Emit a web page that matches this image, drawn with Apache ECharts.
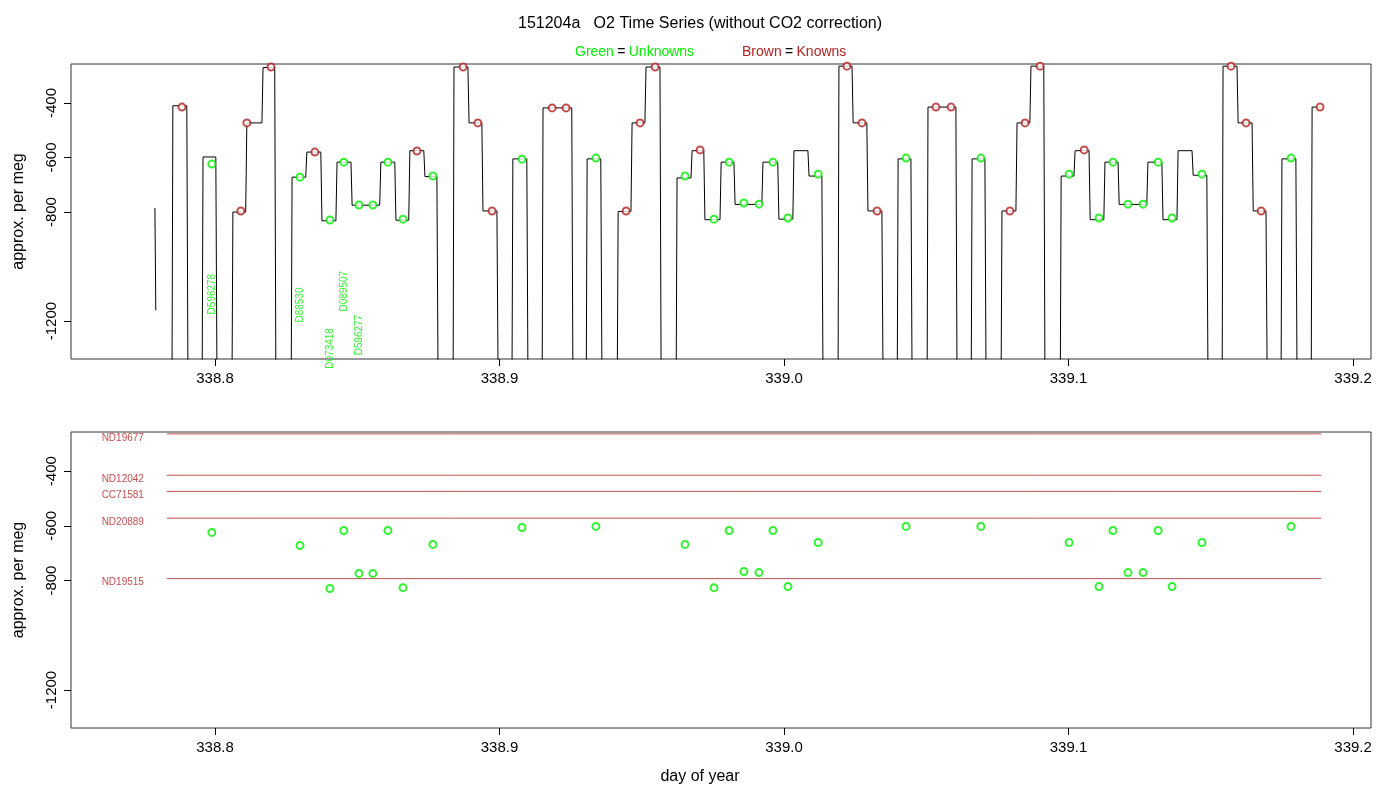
<!DOCTYPE html>
<html>
<head>
<meta charset="utf-8">
<script src="https://cdn.jsdelivr.net/npm/echarts@6/dist/echarts.min.js"></script>
<style>
  html, body { margin: 0; padding: 0; background: #fff; }
  #main { width: 1400px; height: 800px; }
</style>
</head>
<body>
<div id="main"></div>
<script>
// value below the axis floor: the trace drops off the plot between samples
const FLOOR = -1400;

// initial fragment of the trace
const startFragment = [[338.7789, -785], [338.7792, -1160]];

// runs of the trace: start day, end day, then steps [switchDay, level]
const runStarts = [338.7852, 338.7958, 338.8063, 338.8271, 338.8840, 338.9047, 338.9153, 338.9308, 338.9417,
  338.9624, 339.0193, 339.0401, 339.0506, 339.0661, 339.0766, 339.0974, 339.1543, 339.1750, 339.1856];
const runEnds = [338.7905, 338.8007, 338.8214, 338.8784, 338.8995, 338.9100, 338.9258, 338.9360, 338.9568,
  339.0137, 339.0348, 339.0450, 339.0608, 339.0710, 339.0917, 339.1490, 339.1698, 339.1803, 339.1895];
const runSteps = [
  [[338.7852, -410]],
  [[338.7958, -598]],
  [[338.8063, -800], [338.8112, -473], [338.8169, -270]],
  [[338.8271, -672], [338.8323, -580], [338.8376, -832], [338.8429, -617], [338.8482, -775],
   [338.8583, -617], [338.8636, -830], [338.8685, -575], [338.8738, -670]],
  [[338.8840, -268], [338.8893, -473], [338.8942, -796]],
  [[338.9047, -605]],
  [[338.9153, -418]],
  [[338.9308, -605]],
  [[338.9417, -798], [338.9466, -473], [338.9515, -268]],
  [[338.9624, -675], [338.9677, -575], [338.9722, -828], [338.9779, -617], [338.9828, -772],
   [338.9926, -617], [338.9982, -826], [339.0035, -575], [339.0088, -668]],
  [[339.0193, -265], [339.0243, -473], [339.0295, -796]],
  [[339.0401, -605]],
  [[339.0506, -415]],
  [[339.0661, -605]],
  [[339.0766, -796], [339.0819, -473], [339.0868, -265]],
  [[339.0974, -668], [339.1023, -575], [339.1076, -828], [339.1128, -617], [339.1178, -772],
   [339.1279, -617], [339.1332, -828], [339.1385, -575], [339.1438, -665]],
  [[339.1543, -265], [339.1596, -473], [339.1649, -796]],
  [[339.1750, -605]],
  [[339.1856, -415]]
];
const lastRunOpen = true; // last run ends on the plateau

// knowns measured in the top panel (brown circles)
const knownDays = [338.7884, 338.8112, 338.8197, 338.8091, 338.8351, 338.8710, 338.8872, 338.8924, 338.8974,
  338.9185, 338.9234, 338.9445, 338.9494, 338.9547, 338.9705, 339.0221, 339.0274, 339.0327, 339.0534, 339.0587,
  339.0794, 339.0847, 339.0900, 339.1055, 339.1571, 339.1624, 339.1677, 339.1884];
const knownVals = [-415, -473, -268, -796, -580, -576, -268, -473, -796,
  -418, -418, -796, -473, -268, -572, -265, -473, -796, -415, -415,
  -796, -473, -265, -572, -265, -473, -796, -415];

// unknowns (green circles)
const unkDays = [338.7989, 338.8299, 338.8404, 338.8453, 338.8506, 338.8555, 338.8608, 338.8661, 338.8766,
  338.9079, 338.9339, 338.9652, 338.9754, 338.9807, 338.9859, 338.9912, 338.9961, 339.0014, 339.0120,
  339.0429, 339.0692, 339.1002, 339.1107, 339.1156, 339.1209, 339.1262, 339.1315, 339.1364, 339.1469, 339.1782];
const unkVals = [-624, -672, -829, -617, -774, -774, -617, -826, -668,
  -606, -602, -668, -826, -617, -767, -771, -617, -822, -661,
  -602, -602, -661, -822, -617, -771, -771, -617, -822, -661, -602];

// flagged unknown labels in the top panel
const flagNames = ['D596278', 'D88530', 'D073418', 'D089507', 'D596277'];
const flagDays = [338.7990, 338.8299, 338.8404, 338.8453, 338.8506];
const flagVals = [-1101, -1141, -1300, -1090, -1251];

// reference lines of the knowns (bottom panel)
const refNames = ['ND19677', 'ND12042', 'CC71581', 'ND20889', 'ND19515'];
const refVals = [-264, -415, -474, -572, -793];
const refFrom = 338.7831, refTo = 339.1888;

const xTicks = [338.8, 338.9, 339.0, 339.1, 339.2];
const yTicks = [-1200, -800, -600, -400];
const xMin = 338.7494, xMax = 339.2063, yMin = -1339, yMax = -257;

const brown = '#b22222', green = '#00ee00';
const font = 'Liberation Sans, Arial, sans-serif';

// build the trace from the runs
function buildTrace() {
  const pts = startFragment.slice();
  pts.push(null);
  runStarts.forEach((s, i) => {
    const steps = runSteps[i];
    pts.push([s - 0.0003, FLOOR]);
    steps.forEach((st, j) => {
      const next = j + 1 < steps.length ? steps[j + 1][0] : runEnds[i];
      pts.push([st[0], st[1]]);
      pts.push([next - 0.0004, st[1]]);
    });
    if (!(lastRunOpen && i === runStarts.length - 1)) pts.push([runEnds[i], FLOOR]);
  });
  return pts.map(p => p === null ? ['-', '-'] : p);
}

const chart = echarts.init(document.getElementById('main'));

function xAxis(gridIndex) {
  return {
    type: 'value', gridIndex, min: xMin, max: xMax,
    splitLine: { show: false },
    axisLine: { show: false },
    axisTick: { show: true, length: 7, customValues: xTicks, lineStyle: { color: '#000' } },
    axisLabel: { customValues: xTicks, color: '#000', fontSize: 15, fontFamily: font, margin: 12,
      formatter: v => v.toFixed(1) }
  };
}
function yAxis(gridIndex) {
  return {
    type: 'value', gridIndex, min: yMin, max: yMax,
    name: 'approx. per meg', nameLocation: 'middle', nameGap: 44, nameRotate: 90,
    nameTextStyle: { color: '#000', fontSize: 16, fontFamily: font },
    splitLine: { show: false },
    axisLine: { show: false },
    axisTick: { show: true, length: 7, customValues: yTicks, lineStyle: { color: '#000' } },
    axisLabel: { customValues: yTicks, color: '#000', fontSize: 15, fontFamily: font, rotate: 90, margin: 12,
      formatter: v => String(v) }
  };
}

const series = [
  { type: 'line', xAxisIndex: 0, yAxisIndex: 0, data: buildTrace(), showSymbol: false, connectNulls: false,
    lineStyle: { color: '#000', width: 1 }, clip: true, animation: false },
  { type: 'scatter', xAxisIndex: 0, yAxisIndex: 0, data: knownDays.map((d, i) => [d, knownVals[i]]),
    symbol: 'emptyCircle', symbolSize: 7, itemStyle: { color: brown, borderColor: brown, borderWidth: 1 }, z: 5 },
  { type: 'scatter', xAxisIndex: 0, yAxisIndex: 0, data: unkDays.map((d, i) => [d, unkVals[i]]),
    symbol: 'emptyCircle', symbolSize: 7, itemStyle: { color: green, borderColor: green, borderWidth: 1 }, z: 5 },
  { type: 'scatter', xAxisIndex: 0, yAxisIndex: 0, symbolSize: 0,
    data: flagDays.map((d, i) => ({ value: [d, flagVals[i]], name: flagNames[i] })),
    label: { show: true, position: 'inside', rotate: 90, formatter: p => p.name, color: green,
      fontSize: 10, fontFamily: font } },
  { type: 'scatter', xAxisIndex: 1, yAxisIndex: 1, data: unkDays.map((d, i) => [d, unkVals[i]]),
    symbol: 'emptyCircle', symbolSize: 7, itemStyle: { color: green, borderColor: green, borderWidth: 1 } },
  // names of the known reference lines, left of each line
  { type: 'scatter', xAxisIndex: 1, yAxisIndex: 1, symbolSize: 0, clip: false,
    data: refNames.map((n, i) => ({ value: [refFrom, refVals[i]], name: n })),
    label: { show: true, position: 'left', distance: 23, offset: [0, 4], formatter: p => p.name, color: brown,
      fontSize: 10, fontFamily: font } }
];
refNames.forEach((n, i) => {
  series.push({
    type: 'line', xAxisIndex: 1, yAxisIndex: 1, showSymbol: false,
    data: [[refFrom, refVals[i]], [refTo, refVals[i]]],
    lineStyle: { color: '#c05050', width: 1 }
  });
});

chart.setOption({
  animation: false,
  backgroundColor: '#fff',
  title: {
    text: '151204a   O2 Time Series (without CO2 correction)', left: 'center', top: 11,
    textStyle: { fontSize: 16, fontWeight: 'normal', color: '#000', fontFamily: font }
  },
  graphic: [{
    type: 'text', left: 575, top: 45,
    style: {
      text: '{g|Green} {k|=} {g|Unknowns}', rich: {
        g: { fill: green, fontSize: 14, fontFamily: font },
        k: { fill: '#000', fontSize: 14, fontFamily: font }
      }
    }
  }, {
    type: 'text', left: 742, top: 45,
    style: {
      text: '{b|Brown} {k|=} {b|Knowns}', rich: {
        b: { fill: brown, fontSize: 14, fontFamily: font },
        k: { fill: '#000', fontSize: 14, fontFamily: font }
      }
    }
  }, {
    type: 'text', left: 'center', top: 769,
    style: { text: 'day of year', fill: '#000', fontSize: 16, fontFamily: font }
  }],
  grid: [
    { left: 71, top: 64, width: 1300, height: 295, show: true, borderColor: '#333', borderWidth: 1, backgroundColor: 'transparent' },
    { left: 71, top: 432, width: 1300, height: 296, show: true, borderColor: '#333', borderWidth: 1, backgroundColor: 'transparent' }
  ],
  xAxis: [xAxis(0), xAxis(1)],
  yAxis: [yAxis(0), yAxis(1)],
  series
});
</script>
</body>
</html>
